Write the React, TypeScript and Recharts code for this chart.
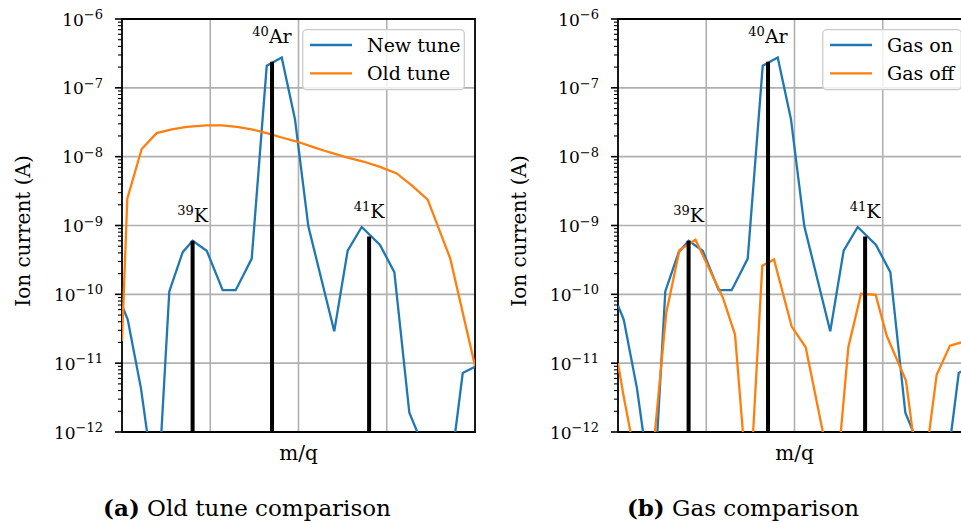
import React from 'react'
import { LineChart, Line, XAxis, YAxis, CartesianGrid, ReferenceLine, ReferenceArea, Legend } from 'recharts'

// scan position (m/q, arbitrary units, 4 grid cells wide) and ion current in A
const mqNewTune = [0, 0.065, 0.215, 0.295, 0.44, 0.536, 0.688, 0.801, 0.96, 1.141, 1.288, 1.47, 1.64, 1.81, 1.96, 2.111, 2.405, 2.557, 2.716, 2.924, 3.086, 3.256, 3.411, 3.569, 3.728, 3.861, 4.0]
const ionNewTune = [6.9e-11, 4.3e-11, 4.3e-12, 7.9e-13, 7.1e-13, 1.1e-10, 4.1e-10, 6.0e-10, 4.3e-10, 1.15e-10, 1.15e-10, 3.3e-10, 2.1e-7, 2.75e-7, 3.5e-8, 9.8e-10, 2.9e-11, 4.3e-10, 9.5e-10, 5.2e-10, 2.1e-10, 1.9e-12, 6.3e-13, 1.6e-13, 3.2e-13, 7.2e-12, 8.9e-12]

const mqOldTune = [0, 0.06, 0.223, 0.393, 0.563, 0.733, 0.96, 1.13, 1.3, 1.47, 1.64, 1.81, 1.98, 2.168, 2.338, 2.546, 2.734, 2.924, 3.113, 3.286, 3.464, 3.72, 4.0]
const ionOldTune = [2.1e-11, 2.45e-9, 1.29e-8, 2.2e-8, 2.5e-8, 2.7e-8, 2.85e-8, 2.85e-8, 2.7e-8, 2.5e-8, 2.2e-8, 1.9e-8, 1.66e-8, 1.38e-8, 1.17e-8, 9.8e-9, 8.5e-9, 7.1e-9, 5.7e-9, 3.8e-9, 2.37e-9, 3.3e-10, 9.1e-12]

const mqGasOff = [0, 0.062, 0.215, 0.374, 0.547, 0.697, 0.878, 1.186, 1.326, 1.484, 1.635, 1.768, 1.968, 2.127, 2.346, 2.504, 2.61, 2.754, 2.92, 3.045, 3.263, 3.433, 3.611, 3.762, 3.887, 4.0]
const ionGasOff = [1.0e-11, 3.4e-12, 3.2e-13, 2.5e-13, 5.4e-11, 4.4e-10, 6.2e-10, 9.1e-11, 2.6e-11, 8e-14, 2.6e-10, 3.2e-10, 3.4e-11, 1.7e-11, 7e-13, 5e-13, 1.7e-11, 1.02e-10, 9.8e-11, 2.5e-11, 5.6e-12, 1.2e-13, 6.8e-12, 1.8e-11, 2.0e-11, 2.1e-11]

// isotope stems
const isoMass = ['39', '40', '41']
const isoElem = ['K', 'Ar', 'K']
const isoPos = [0.8, 1.7, 2.8]
const isoPeak = [6.0e-10, 2.4e-7, 6.9e-10]

const gridX = [1, 2, 3]
const decades = [-12, -11, -10, -9, -8, -7, -6]

const Y_MIN = 1e-12
const Y_MAX = 1e-6
const majorTicks = decades.map(d => Number(`1e${d}`))
const minorTicks = decades.slice(0, -1).flatMap(d => [2, 3, 4, 5, 6, 7, 8, 9].map(k => Number(`${k}e${d}`)))
const yTicks = [...majorTicks, ...minorTicks].sort((a, b) => a - b)

const BLUE = '#1f77b4'
const ORANGE = '#ff7f0e'
const SERIF = 'DejaVu Serif'

const zip = (xs: number[], ys: number[]) => xs.map((mq, i) => ({ mq, ion: ys[i] }))

const NoTick = () => <g />

const LogTick = (props: any) => {
  const { x, y, payload } = props
  const lg = Math.log10(payload.value)
  const e = Math.round(lg)
  const major = Math.abs(lg - e) < 1e-6
  return (
    <g>
      <line x1={x - (major ? 7 : 4)} x2={x} y1={y} y2={y} stroke="#000" strokeWidth={major ? 1.6 : 1.1} />
      {major && (
        <text x={x - 19} y={y + 6.5} textAnchor="end" fontSize={17} fontFamily={SERIF} fill="#000">
          10<tspan fontSize={13} dy={-6.5}>{'\u2212' + Math.abs(e)}</tspan>
        </text>
      )}
    </g>
  )
}

const isoLabel = (mass: string, elem: string) => (props: any) => {
  const vb = props.viewBox
  const cx = vb.x + vb.width / 2
  return (
    <text x={cx} y={vb.y - 19} textAnchor="middle" fontSize={19} fontFamily={SERIF} fill="#000">
      <tspan fontSize={13} dy={-7}>{mass}</tspan>
      <tspan dy={7}>{elem}</tspan>
    </text>
  )
}

const legendBox = (w: number, order: string[]) => (props: any) => {
  const items = [...(props.payload || [])].sort((a: any, b: any) => order.indexOf(a.value) - order.indexOf(b.value))
  return (
    <svg width={w} height={63} style={{ display: 'block' }}>
      <rect x={0.7} y={0.7} width={w - 1.4} height={60} rx={4} fill="#fff" fillOpacity={0.8} stroke="#cccccc" strokeWidth={1.3} />
      {items.map((it: any, i: number) => (
        <g key={i}>
          <line x1={8} x2={50} y1={16 + i * 28.3} y2={16 + i * 28.3} stroke={it.color} strokeWidth={2.3} />
          <text x={65} y={22.5 + i * 28.3} fontSize={19} fontFamily={SERIF} fill="#000">{it.value}</text>
        </g>
      ))}
    </svg>
  )
}

interface PanelProps {
  left: number
  orangeX: number[]
  orangeY: number[]
  blueName: string
  orangeName: string
  legendLeft: number
  legendW: number
  tag: string
  caption: string
}

const Panel = ({ left, orangeX, orangeY, blueName, orangeName, legendLeft, legendW, tag, caption }: PanelProps) => (
  <div style={{ position: 'absolute', left, top: 0, width: 480, height: 523 }}>
    <LineChart width={480} height={523} margin={{ top: 19, right: 5, bottom: 51, left: 62 }}>
      <CartesianGrid stroke="#b0b0b0" strokeWidth={1.6} horizontalValues={majorTicks} verticalValues={gridX} />
      <XAxis
        type="number"
        dataKey="mq"
        domain={[0, 4]}
        ticks={[0, 1, 2, 3, 4]}
        allowDataOverflow
        tick={<NoTick />}
        tickLine={false}
        axisLine={false}
        height={40}
        label={{ value: 'm/q', position: 'insideBottom', offset: 12, fontSize: 20, fontFamily: SERIF, fill: '#000' }}
      />
      <YAxis
        type="number"
        scale="log"
        domain={[Y_MIN, Y_MAX]}
        allowDataOverflow
        ticks={yTicks}
        interval={0}
        tick={<LogTick />}
        tickLine={false}
        tickSize={0}
        tickMargin={0}
        axisLine={false}
        width={60}
      />
      <ReferenceArea x1={0} x2={4} y1={Y_MIN} y2={Y_MAX} fill="none" stroke="#000" strokeWidth={1.8} />
      <Line data={zip(mqNewTune, ionNewTune)} dataKey="ion" name={blueName} type="linear" stroke={BLUE} strokeWidth={2.3} dot={false} isAnimationActive={false} />
      <Line data={zip(orangeX, orangeY)} dataKey="ion" name={orangeName} type="linear" stroke={ORANGE} strokeWidth={2.3} dot={false} isAnimationActive={false} />
      {isoPos.map((p, i) => (
        <ReferenceLine
          key={i}
          segment={[{ x: p, y: Y_MIN }, { x: p, y: isoPeak[i] }]}
          stroke="#000"
          strokeWidth={4}
          label={isoLabel(isoMass[i], isoElem[i])}
        />
      ))}
      <Legend
        verticalAlign="middle"
        align="center"
        layout="horizontal"
        wrapperStyle={{ left: legendLeft, top: 29, width: legendW, height: 63 }}
        content={legendBox(legendW, [blueName, orangeName])}
      />
    </LineChart>
    <svg width={480} height={523} style={{ position: 'absolute', left: 0, top: 0, pointerEvents: 'none' }}>
      <text x={29.5} y={231} transform="rotate(-90 29.5 231)" textAnchor="middle" fontSize={20} fontFamily={SERIF} fill="#000">
        Ion current (A)
      </text>
      <text x={247} y={516} textAnchor="middle" fontSize={23} fontFamily={SERIF} fill="#000">
        <tspan fontWeight="bold">{tag}</tspan>
        {' ' + caption}
      </text>
    </svg>
  </div>
)

const App = () => (
  <div style={{ position: 'absolute', left: 0, top: 0, width: 961, height: 523, overflow: 'hidden', background: '#fff', fontFamily: SERIF }}>
    <Panel left={0} orangeX={mqOldTune} orangeY={ionOldTune} blueName="New tune" orangeName="Old tune" legendLeft={302} legendW={163} tag="(a)" caption="Old tune comparison" />
    <Panel left={496} orangeX={mqGasOff} orangeY={ionGasOff} blueName="Gas on" orangeName="Gas off" legendLeft={326} legendW={140} tag="(b)" caption="Gas comparison" />
  </div>
)

export default App
